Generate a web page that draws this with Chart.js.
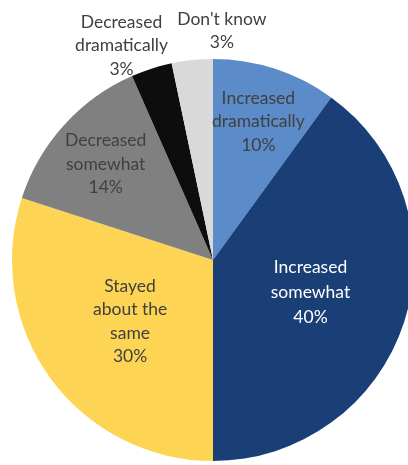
<!DOCTYPE html>
<html>
<head>
<meta charset="utf-8">
<script src="https://cdn.jsdelivr.net/npm/chart.js@4"></script>
<style>
  html, body { margin: 0; padding: 0; background: #fff; overflow: hidden; width: 408px; height: 465px; }
  #wrap { position: absolute; left: 0; top: 0; width: 426px; height: 465px; }
</style>
</head>
<body>
<div id="wrap"><canvas id="chart-pie" width="426" height="465"></canvas></div>
<script>
// ── Data ──────────────────────────────────────────────────────────────────────
const categories = ['Increased dramatically', 'Increased somewhat', 'Stayed about the same',
                    'Decreased somewhat', 'Decreased dramatically', "Don't know"];
const shares     = [10, 40, 30, 13.4, 3.3, 3.3];
const pctLabels  = ['10%', '40%', '30%', '14%', '3%', '3%'];
const labelLines = [
  ['Increased', 'dramatically'],
  ['Increased', 'somewhat'],
  ['Stayed', 'about the', 'same'],
  ['Decreased', 'somewhat'],
  ['Decreased', 'dramatically'],
  ["Don't know"],
];

const sliceColors = ['#5b8bc8', '#1a3f77', '#fdd453', '#808080', '#0d0d0d', '#d9d9d9'];
const textColors  = ['#404040', '#ffffff', '#404040', '#404040', '#404040', '#404040'];
// r = fraction of radius; a = fixed angle (deg from 12 o'clock), else slice middle
const labelPlace  = [{ r: 0.73 }, { r: 0.51, lh: 25 }, { r: 0.51 }, { r: 0.72 },
                     { r: 1.165, a: 337 }, { r: 1.145, a: 2.2 }];

const sliceLabels = {
  id: 'sliceLabels',
  afterDatasetsDraw(chart) {
    const { ctx } = chart;
    const arcs = chart.getDatasetMeta(0).data;
    ctx.save();
    ctx.font = '17.5px Lato, "Liberation Sans", sans-serif';
    ctx.textAlign = 'center';
    ctx.textBaseline = 'middle';
    arcs.forEach((arc, i) => {
      const p   = labelPlace[i];
      const ang = p.a !== undefined ? (p.a - 90) * Math.PI / 180 : (arc.startAngle + arc.endAngle) / 2;
      const cx  = arc.x + Math.cos(ang) * arc.outerRadius * p.r;
      const cy  = arc.y + Math.sin(ang) * arc.outerRadius * p.r + 1;
      const lines = [...labelLines[i], pctLabels[i]];
      const lh  = p.lh || 23.5;
      const y0  = cy - (lines.length - 1) * lh / 2;
      ctx.fillStyle = textColors[i];
      lines.forEach((t, k) => ctx.fillText(t, cx, y0 + k * lh));
    });
    ctx.restore();
  },
};

new Chart(document.getElementById('chart-pie'), {
  type: 'pie',
  data: {
    labels: categories,
    datasets: [{
      data: shares,
      backgroundColor: sliceColors,
      borderWidth: 0,
    }],
  },
  options: {
    responsive: false,
    animation: false,
    devicePixelRatio: 1,
    layout: { padding: { top: 59, bottom: 4, left: 12, right: 12 } },
    plugins: {
      legend: { display: false },
      tooltip: { enabled: false },
    },
  },
  plugins: [sliceLabels],
});
</script>
</body>
</html>
